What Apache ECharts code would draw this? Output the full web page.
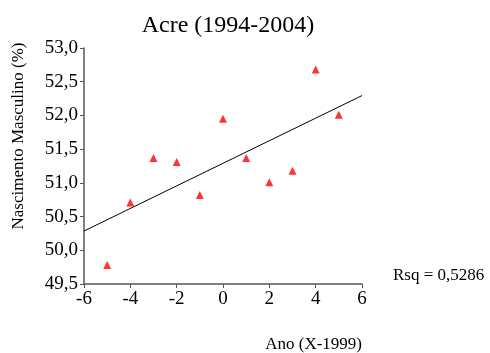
<!DOCTYPE html>
<html><head><meta charset="utf-8">
<script src="https://cdn.jsdelivr.net/npm/echarts@6/dist/echarts.min.js"></script>
<style>html,body{margin:0;padding:0;background:#fff}#c{width:490px;height:353px}</style>
</head><body><div id="c"></div>
<script>
const years = [-5, -4, -3, -2, -1, 0, 1, 2, 3, 4, 5];
const masculino = [49.78, 50.71, 51.37, 51.31, 50.82, 51.95, 51.37, 51.01, 51.18, 52.68, 52.01];
const xTicks = [-6, 6, 2];
const yTicks = [49.5, 53.0, 0.5];
const yName = 'Nascimento Masculino (%)';
const rsqText = 'Rsq = 0,5286';

// least-squares fit line from the data
const n = years.length;
const mx = years.reduce((a,b)=>a+b,0)/n;
const my = masculino.reduce((a,b)=>a+b,0)/n;
let sxy=0, sxx=0;
for (let i=0;i<n;i++){ sxy+=(years[i]-mx)*(masculino[i]-my); sxx+=(years[i]-mx)**2; }
const slope = sxy/sxx, icpt = my - slope*mx;
const fit = [[xTicks[0], icpt+slope*xTicks[0]],[xTicks[1], icpt+slope*xTicks[1]]];

const font = 'Liberation Serif';
const fmt = v => v.toFixed(1).replace('.', ',');
const chart = echarts.init(document.getElementById('c'));
chart.setOption({
  animation:false,
  title:{text:'Acre (1994-2004)', left:223, textAlign:'center', top:9,
    textStyle:{fontFamily:font, fontSize:24, fontWeight:'normal', color:'#000'}},
  grid:{left:84, right:128, top:48, bottom:69},
  xAxis:{type:'value', min:xTicks[0], max:xTicks[1], interval:xTicks[2],
    name:'Ano (X-1999)', nameLocation:'end', nameGap:0,
    nameTextStyle:{fontFamily:font, fontSize:17, color:'#000', align:'right', verticalAlign:'top', padding:[52,0,0,0]},
    axisLine:{onZero:false, lineStyle:{color:'#555', width:1.5}},
    axisTick:{length:4, lineStyle:{color:'#555'}},
    axisLabel:{fontFamily:font, fontSize:19, color:'#000', margin:6},
    splitLine:{show:false}},
  yAxis:{type:'value', min:yTicks[0], max:yTicks[1], interval:yTicks[2],
    axisLine:{show:true, onZero:false, lineStyle:{color:'#555', width:1.5}},
    axisTick:{show:true, length:4, lineStyle:{color:'#555'}},
    axisLabel:{fontFamily:font, fontSize:19, color:'#000', margin:6, formatter:fmt},
    splitLine:{show:false}},
  graphic:[
    {type:'text', x:19, y:136, rotation:Math.PI/2,
      style:{text:yName, fontFamily:font, fontSize:17, fill:'#000', align:'center', verticalAlign:'middle'}},
    {type:'text', left:393, top:267,
      style:{text:rsqText, fontFamily:font, fontSize:17, fill:'#000'}}],
  series:[
    {type:'line', data:fit, symbol:'none', lineStyle:{color:'#000', width:1}, silent:true},
    {type:'scatter', data:years.map((x,i)=>[x, masculino[i]]), symbol:'triangle', symbolSize:[8,8],
      itemStyle:{color:'#ff0000'}}
  ]
});
</script></body></html>
